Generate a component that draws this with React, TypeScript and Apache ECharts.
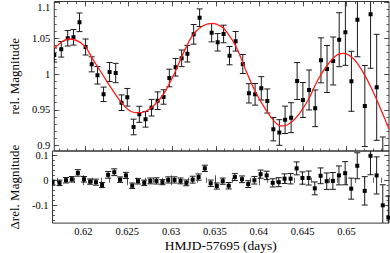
import React, { useEffect, useRef } from "react";
import * as echarts from "echarts";

// ---- data ----
const times = [
  0.61648, 0.61728, 0.61802, 0.61868, 0.61937, 0.62007, 0.62077, 0.62143, 0.62213, 0.62282,
  0.62352, 0.62419, 0.62485, 0.62557, 0.62623, 0.62694, 0.62763, 0.62833, 0.62901, 0.62967,
  0.63039, 0.63108, 0.63174, 0.63246, 0.63314, 0.63385, 0.63452, 0.63521, 0.63589, 0.63657,
  0.63727, 0.63809, 0.63879, 0.6395, 0.64021, 0.6409, 0.64159, 0.64228, 0.64294, 0.64363,
  0.64432, 0.64498, 0.64569, 0.64639, 0.64705, 0.64775, 0.64845, 0.64914, 0.64985, 0.65054,
  0.65123, 0.65208, 0.65274, 0.65344, 0.65414, 0.65478,
];
const mags = [
  1.0265, 1.0345, 1.0499, 1.0513, 1.0722, 1.0377, 1.0135, 0.9982, 0.9716, 1.0028,
  1.0014, 0.9599, 0.9675, 0.926, 0.9437, 0.9367, 0.9529, 0.9627, 0.9679, 0.9944,
  1.0094, 1.0219, 1.0284, 1.0554, 1.0786, 1.116, 1.0577, 1.0443, 1.0559, 1.0256,
  1.0457, 1.014, 0.973, 0.9716, 0.98, 0.9623, 0.9229, 0.9183, 0.936, 0.939,
  0.9902, 0.9637, 0.9777, 0.9521, 1.0191, 1.007, 1.0182, 1.0479, 1.0582, 0.9898,
  1.0758, 0.9553, 1.0834, 0.9814, 0.83, 0.766,
];
const magErr = [
  0.0098, 0.0109, 0.0108, 0.0109, 0.013, 0.0112, 0.0105, 0.0122, 0.0101, 0.0133,
  0.0135, 0.0109, 0.0123, 0.0109, 0.0112, 0.0109, 0.0116, 0.0123, 0.0101, 0.0123,
  0.0123, 0.0116, 0.0116, 0.0137, 0.0123, 0.0126, 0.0128, 0.0122, 0.0123, 0.0128,
  0.0137, 0.0133, 0.0135, 0.0151, 0.0163, 0.0168, 0.0163, 0.0179, 0.0191, 0.0209,
  0.0258, 0.0244, 0.0279, 0.0256, 0.0314, 0.0328, 0.0335, 0.0377, 0.0461, 0.0419,
  0.0517, 0.0566, 0.0754, 0.074, 0.082, 0.085,
];
const residuals = [
  -0.0092, -0.0104, 0, 0.0038, 0.0292, 0.0038, -0.0054, -0.0077, -0.0192, 0.0215,
  0.0319, 0.0023, 0.0192, -0.0219, -0.0038, -0.0104, -0.0027, -0.0027, -0.0077, 0.0012,
  0.0012, -0.0027, -0.0104, 0.0023, 0.0127, 0.0473, -0.012, -0.0231, -0.0038, -0.0219,
  0.0127, 0.0038, -0.0154, 0, 0.0242, 0.0192, -0.0104, -0.0077, 0.0062, 0.0062,
  0.0473, 0.0088, 0.0088, -0.0323, 0.0177, -0.0038, -0.0027, 0.0192, 0.0281, -0.0335,
  0.0577, -0.0423, 0.0973, 0.0192, -0.1, -0.1488,
];
const fitTimes = [
  0.61648, 0.61819, 0.61985, 0.62095, 0.62205, 0.62315, 0.62425, 0.62535, 0.62609, 0.62686,
  0.62796, 0.62906, 0.63017, 0.63127, 0.63237, 0.63347, 0.63457, 0.63567, 0.63622, 0.63732,
  0.63842, 0.63953, 0.64063, 0.64173, 0.64247, 0.64319, 0.6443, 0.64558, 0.64669, 0.64779,
  0.64889, 0.64963, 0.65073, 0.65183, 0.65293, 0.65403, 0.65485,
];
const fitMags = [
  1.0359, 1.0489, 1.0405, 1.0196, 0.9986, 0.9777, 0.9591, 0.9473, 0.9459, 0.9473,
  0.9567, 0.973, 0.9986, 1.0289, 1.0545, 1.067, 1.0708, 1.0661, 1.0591, 1.0381,
  1.0056, 0.9753, 0.9521, 0.9334, 0.9274, 0.9288, 0.9404, 0.9637, 0.9916, 1.0126,
  1.0265, 1.0289, 1.0219, 1.0032, 0.9777, 0.9473, 0.923,
];

const xTicks = [0.62, 0.625, 0.63, 0.635, 0.64, 0.645, 0.65];
const xTickLabels = ["0.62", "0.625", "0.63", "0.635", "0.64", "0.645", "0.65"];
const topYTicks = [0.9, 0.95, 1, 1.05, 1.1];
const topYLabels = ["0.9", "0.95", "1", "1.05", "1.1"];
const botYTicks = [-0.1, 0, 0.1];
const botYLabels = ["-0.1", "0", "0.1"];

const X_MIN = 0.61648;
const X_MAX = 0.65485;
const TOP_MIN = 0.89246;
const TOP_MAX = 1.10126;
const BOT_MIN = -0.1708;
const BOT_MAX = 0.1165;

const FONT = '"Liberation Serif", "DejaVu Serif", serif';
const TICK_COLOR = "#333";

function range(a: number, b: number, step: number) {
  const out: number[] = [];
  const n = Math.round((b - a) / step);
  for (let i = 0; i <= n; i++) out.push(+(a + i * step).toFixed(6));
  return out;
}
const xMinor = range(0.617, 0.654, 0.001);
const topMinor = range(0.9, 1.1, 0.01);
const botMinor = range(-0.16, 0.1, 0.02);

function lookup(vals: number[], labels: string[], v: number) {
  const i = vals.findIndex((t) => Math.abs(t - v) < 1e-7);
  return i >= 0 ? labels[i] : "";
}

function xAx(grid: number, pos: string, values: number[], len: number, label?: boolean, name?: string) {
  return {
    type: "value",
    gridIndex: grid,
    position: pos,
    min: X_MIN,
    max: X_MAX,
    axisLine: { show: false },
    splitLine: { show: false },
    axisTick: { show: true, inside: true, length: len, customValues: values, lineStyle: { color: TICK_COLOR, width: 0.8 } },
    axisLabel: label
      ? {
          show: true,
          customValues: xTicks,
          margin: 3,
          color: "#000",
          fontFamily: FONT,
          fontSize: 10.5,
          formatter: (v: number) => lookup(xTicks, xTickLabels, v),
        }
      : { show: false },
    name: name || "",
    nameLocation: "middle",
    nameGap: 7.5,
    nameTextStyle: { color: "#000", fontFamily: FONT, fontSize: 13.5, verticalAlign: "top" },
  };
}

function yAx(grid: number, pos: string, min: number, max: number, values: number[], len: number, labelSpec?: any, name?: string) {
  return {
    type: "value",
    gridIndex: grid,
    position: pos,
    min,
    max,
    axisLine: { show: false },
    splitLine: { show: false },
    axisTick: { show: true, inside: true, length: len, customValues: values, lineStyle: { color: TICK_COLOR, width: 0.8 } },
    axisLabel: labelSpec || { show: false },
    name: name || "",
    nameLocation: "middle",
    nameGap: 26,
    nameRotate: 90,
    nameTextStyle: { color: "#000", fontFamily: FONT, fontSize: 13 },
  };
}

const errRender = (params: any, api: any) => {
  const x = api.value(0);
  const y = api.value(1);
  const e = api.value(2);
  const p = api.coord([x, y]);
  const hi = api.coord([x, y + e]);
  const lo = api.coord([x, y - e]);
  const cap = 3;
  const st = { stroke: "#1a1a1a", lineWidth: 1 };
  return {
    type: "group",
    children: [
      { type: "line", shape: { x1: p[0], y1: hi[1], x2: p[0], y2: lo[1] }, style: st },
      { type: "line", shape: { x1: p[0] - cap, y1: hi[1], x2: p[0] + cap, y2: hi[1] }, style: st },
      { type: "line", shape: { x1: p[0] - cap, y1: lo[1], x2: p[0] + cap, y2: lo[1] }, style: st },
      { type: "rect", shape: { x: p[0] - 2, y: p[1] - 2, width: 4, height: 4 }, style: { fill: "#000" } },
    ],
  };
};

export default function App() {
  const ref = useRef<HTMLDivElement>(null);
  useEffect(() => {
    document.body.style.margin = "0";
    if (!ref.current) return;
    const chart = echarts.init(ref.current, undefined, { renderer: "svg" });

    const topLabel = {
      show: true,
      customValues: topYTicks,
      margin: 4,
      color: "#000",
      fontFamily: FONT,
      fontSize: 10.5,
      formatter: (v: number) => {
        const s = lookup(topYTicks, topYLabels, v);
        return Math.abs(v - 1.1) < 1e-7 ? "{t|" + s + "}" : s;
      },
      rich: { t: { padding: [10, 0, 0, 0], color: "#000", fontFamily: FONT, fontSize: 10.5 } },
    };
    const botLabel = {
      show: true,
      customValues: botYTicks,
      margin: 4,
      color: "#000",
      fontFamily: FONT,
      fontSize: 10.5,
      formatter: (v: number) => lookup(botYTicks, botYLabels, v),
    };

    const gridLeft = 40.7;
    const gridW = 348.3;

    chart.setOption({
      animation: false,
      grid: [
        { left: gridLeft, top: 1.5, width: gridW, height: 149.5, show: true, borderColor: "#222", borderWidth: 0.9, backgroundColor: "transparent" },
        { left: gridLeft, top: 151, width: gridW, height: 74.7, show: true, borderColor: "#222", borderWidth: 0.9, backgroundColor: "transparent" },
      ],
      xAxis: [
        xAx(0, "bottom", xTicks, 5),
        xAx(0, "bottom", xMinor, 2.5),
        xAx(0, "top", xTicks, 5),
        xAx(0, "top", xMinor, 2.5),
        xAx(1, "bottom", xTicks, 5, true, "HMJD-57695 (days)"),
        xAx(1, "bottom", xMinor, 2.5),
        xAx(1, "top", xTicks, 5),
        xAx(1, "top", xMinor, 2.5),
      ],
      yAxis: [
        yAx(0, "left", TOP_MIN, TOP_MAX, topYTicks, 5, topLabel, "rel. Magnitude"),
        yAx(0, "left", TOP_MIN, TOP_MAX, topMinor, 2.5),
        yAx(0, "right", TOP_MIN, TOP_MAX, topYTicks, 5),
        yAx(0, "right", TOP_MIN, TOP_MAX, topMinor, 2.5),
        yAx(1, "left", BOT_MIN, BOT_MAX, botYTicks, 5, botLabel, "Δrel. Magnitude"),
        yAx(1, "left", BOT_MIN, BOT_MAX, botMinor, 2.5),
        yAx(1, "right", BOT_MIN, BOT_MAX, botYTicks, 5),
        yAx(1, "right", BOT_MIN, BOT_MAX, botMinor, 2.5),
      ],
      series: [
        {
          type: "custom",
          name: "data",
          xAxisIndex: 0,
          yAxisIndex: 0,
          clip: true,
          renderItem: errRender,
          data: times.map((t, i) => [t, mags[i], magErr[i]]),
        },
        {
          type: "line",
          name: "fit",
          xAxisIndex: 0,
          yAxisIndex: 0,
          smooth: 0.4,
          showSymbol: false,
          clip: true,
          lineStyle: { color: "#ff1a1a", width: 1.3 },
          data: fitTimes.map((t, i) => [t, fitMags[i]]),
          z: 5,
        },
        {
          type: "custom",
          name: "residuals",
          xAxisIndex: 4,
          yAxisIndex: 4,
          clip: true,
          renderItem: errRender,
          data: times.map((t, i) => [t, residuals[i], magErr[i]]),
        },
      ],
    });
    return () => chart.dispose();
  }, []);
  return <div ref={ref} style={{ width: 390, height: 253 }} />;
}
